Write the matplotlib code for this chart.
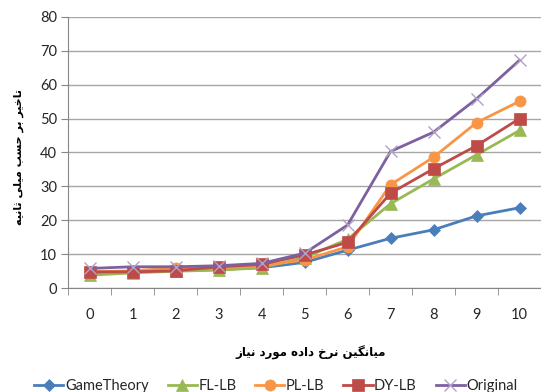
import matplotlib
matplotlib.use("Agg")
import matplotlib.pyplot as plt
import numpy as np

# ---- data ----
rates = list(range(11))
game_theory = [4.3, 4.8, 5.1, 5.5, 6.0, 7.6, 11.2, 14.7, 17.2, 21.3, 23.7]
fl_lb = [3.8, 4.5, 5.0, 5.3, 6.0, 9.0, 14.4, 24.9, 32.2, 39.3, 46.5]
pl_lb = [4.8, 5.1, 6.0, 6.0, 6.6, 8.3, 12.2, 30.5, 38.6, 48.8, 55.1]
dy_lb = [4.8, 4.8, 5.1, 6.3, 7.0, 9.8, 13.5, 28.0, 35.2, 42.0, 50.0]
original = [5.8, 6.3, 6.3, 6.6, 7.3, 10.3, 18.6, 40.3, 46.0, 55.8, 67.2]

xlabel_fa = "میانگین نرخ داده مورد نیاز"
ylabel_fa = "تاخیر بر حسب میلی ثانیه"

# ---- simple persian shaping (matplotlib has no bidi / joining) ----
FORMS = {  # isolated, final, initial, medial
    "ا": ("\uFE8D", "\uFE8E", None, None),
    "ب": ("\uFE8F", "\uFE90", "\uFE91", "\uFE92"),
    "ت": ("\uFE95", "\uFE96", "\uFE97", "\uFE98"),
    "ث": ("\uFE99", "\uFE9A", "\uFE9B", "\uFE9C"),
    "ح": ("\uFEA1", "\uFEA2", "\uFEA3", "\uFEA4"),
    "خ": ("\uFEA5", "\uFEA6", "\uFEA7", "\uFEA8"),
    "د": ("\uFEA9", "\uFEAA", None, None),
    "ر": ("\uFEAD", "\uFEAE", None, None),
    "ز": ("\uFEAF", "\uFEB0", None, None),
    "س": ("\uFEB1", "\uFEB2", "\uFEB3", "\uFEB4"),
    "ل": ("\uFEDD", "\uFEDE", "\uFEDF", "\uFEE0"),
    "م": ("\uFEE1", "\uFEE2", "\uFEE3", "\uFEE4"),
    "ن": ("\uFEE5", "\uFEE6", "\uFEE7", "\uFEE8"),
    "ه": ("\uFEE9", "\uFEEA", "\uFEEB", "\uFEEC"),
    "و": ("\uFEED", "\uFEEE", None, None),
    "گ": ("\uFB92", "\uFB93", "\uFB94", "\uFB95"),
    "ی": ("\uFBFC", "\uFBFD", "\uFBFE", "\uFBFF"),
}


def joins_next(ch):
    return ch in FORMS and FORMS[ch][2] is not None


def shape(text):
    out = []
    for i, ch in enumerate(text):
        if ch not in FORMS:
            out.append(ch)
            continue
        prev = text[i - 1] if i > 0 else " "
        nxt = text[i + 1] if i + 1 < len(text) else " "
        left = joins_next(prev)
        right = nxt in FORMS and joins_next(ch)
        iso, fin, ini, med = FORMS[ch]
        if left and right:
            out.append(med)
        elif left:
            out.append(fin)
        elif right:
            out.append(ini)
        else:
            out.append(iso)
    return "".join(out)[::-1]


# ---- figure ----
fig = plt.figure(figsize=(5.41, 3.92), dpi=100)
ax = fig.add_axes([0.126, 0.265, 0.874, 0.692])

series = [
    ("GameTheory", game_theory, "#4A7EBB", "D", 6.5, "#4A7EBB"),
    ("FL-LB", fl_lb, "#98B954", "^", 8, "#98B954"),
    ("PL-LB", pl_lb, "#F79646", "o", 8, "#F79646"),
    ("DY-LB", dy_lb, "#BE4B48", "s", 8, "#BE4B48"),
    ("Original", original, "#7D60A0", "x", 8.5, "#B3A2C7"),
]
for name, vals, col, mk, ms, mcol in series:
    ax.plot(rates, vals, color=col, lw=2, marker=mk, ms=ms,
            markerfacecolor=mcol, markeredgecolor=mcol, mew=1 if mk == "x" else 0.5,
            label=name)

ax.set_xlim(-0.5, 10.5)
ax.set_ylim(0, 80)
ax.set_yticks(range(0, 81, 10))
ax.set_xticks(rates)
ax.set_xticks(np.arange(-0.5, 10.6, 1), minor=True)
ax.grid(axis="y", color="#A6A6A6", lw=1)
ax.set_axisbelow(True)

for s in ["top", "right"]:
    ax.spines[s].set_visible(False)
for s in ["left", "bottom"]:
    ax.spines[s].set_color("#868686")

ax.tick_params(axis="x", which="major", length=0, pad=14, labelsize=10.5, labelcolor="#262626")
ax.tick_params(axis="x", which="minor", length=5, color="#868686", direction="out")
ax.tick_params(axis="y", length=5, color="#868686", labelsize=10.5, labelcolor="#262626", pad=3)
for lbl in ax.get_xticklabels() + ax.get_yticklabels():
    lbl.set_family(["Lato", "DejaVu Sans"])

fig.text(0.575, 0.1, shape(xlabel_fa), ha="center", va="center",
         fontsize=8.5, fontweight="bold", family="DejaVu Sans")
fig.text(0.034, 0.6, shape(ylabel_fa), ha="center", va="center", rotation=90,
         fontsize=8, fontweight="bold", family="DejaVu Sans")

leg = fig.legend(loc="center", bbox_to_anchor=(0.51, 0.016), ncol=5, frameon=False,
                 handlelength=2.0, columnspacing=1.3, handletextpad=0.1,
                 prop={"family": "Lato", "size": 10.5})
for t in leg.get_texts():
    t.set_color("#262626")

fig.savefig("out.png", dpi=100)
